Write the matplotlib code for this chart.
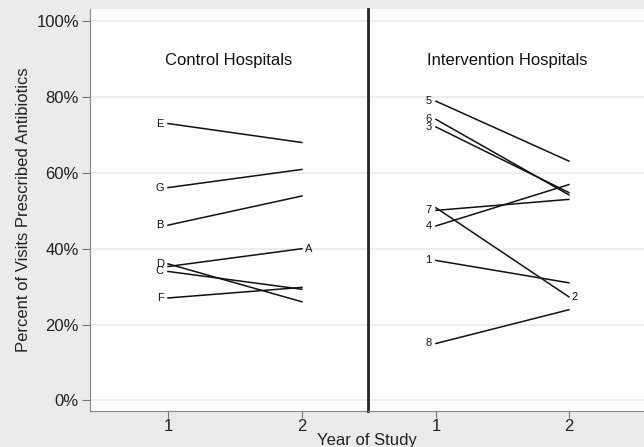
import matplotlib.pyplot as plt

plt.rcParams['font.family'] = ['Liberation Sans', 'DejaVu Sans']

# percent of visits with antibiotics, year 1 -> year 2
control_ids = ['E', 'G', 'B', 'A', 'D', 'C', 'F']
control_y1 = [73.0, 56.1, 46.2, 35.3, 36.0, 34.0, 27.0]
control_y2 = [68.0, 60.9, 53.9, 40.0, 26.0, 29.3, 29.8]
control_label_at = [1, 1, 1, 2, 1, 1, 1]

interv_ids = ['5', '6', '3', '7', '2', '4', '1', '8']
interv_y1 = [78.9, 74.1, 72.1, 50.1, 50.8, 46.0, 36.9, 15.0]
interv_y2 = [63.1, 54.2, 54.8, 53.0, 27.3, 56.9, 31.0, 23.9]
interv_label_at = [1, 1, 1, 1, 2, 1, 1, 1]

years = [1, 2]
yticks = [0, 20, 40, 60, 80, 100]

W, H = 644, 447
fig = plt.figure(figsize=(W / 100, H / 100), dpi=100, facecolor='#ebebeb')

bottom, top = 411, 9
ax_l = fig.add_axes([90 / W, 1 - bottom / H, 278 / W, (bottom - top) / H])
ax_r = fig.add_axes([368 / W, 1 - bottom / H, 278 / W, (bottom - top) / H])


def panel(ax, title, ids, y1, y2, label_at, xlim):
    ax.set_facecolor('white')
    ax.set_xlim(*xlim)
    ax.set_ylim(-2.8, 103.2)
    for t in yticks:
        ax.axhline(t, color='#ececec', lw=1.3, zorder=0)
    for name, a, b, at in zip(ids, y1, y2, label_at):
        ax.plot(years, [a, b], color='#111111', lw=1.1)
        if at == 1:
            ax.annotate(name, (1, a), xytext=(-3, 0), textcoords='offset points',
                        ha='right', va='center', fontsize=8, color='#111111')
        else:
            ax.annotate(name, (2, b), xytext=(2, 0), textcoords='offset points',
                        ha='left', va='center', fontsize=8, color='#111111')
    ax.text(0.5, 89.5, title, transform=ax.get_yaxis_transform(),
            ha='center', va='center', fontsize=12, color='#111111')
    ax.set_xticks(years)
    ax.set_xticklabels(['1', '2'], fontsize=12, color='#222222')
    ax.tick_params(axis='x', length=5, color='#777777', pad=1)
    ax.spines['top'].set_visible(False)
    ax.spines['right'].set_visible(False)
    ax.spines['bottom'].set_color('#888888')


panel(ax_l, 'Control Hospitals', control_ids, control_y1, control_y2,
      control_label_at, (0.418, 2.493))
panel(ax_r, 'Intervention Hospitals', interv_ids, interv_y1, interv_y2,
      interv_label_at, (0.489, 2.58))

ax_l.set_yticks(yticks)
ax_l.set_yticklabels([f'{t}%' for t in yticks], fontsize=12, color='#222222')
ax_l.tick_params(axis='y', length=6, color='#777777', pad=2)
ax_l.spines['left'].set_color('#888888')
ax_l.set_ylabel('Percent of Visits Prescribed Antibiotics', fontsize=12,
                color='#222222', labelpad=4)

# divider between the two groups
ax_r.set_yticks([])
ax_r.spines['left'].set_color('#222222')
ax_r.spines['left'].set_linewidth(2)

fig.text(367 / W, 1 - 440 / H, 'Year of Study', ha='center', va='center',
         fontsize=12, color='#222222')

fig.savefig('out.png', dpi=100, facecolor=fig.get_facecolor())
